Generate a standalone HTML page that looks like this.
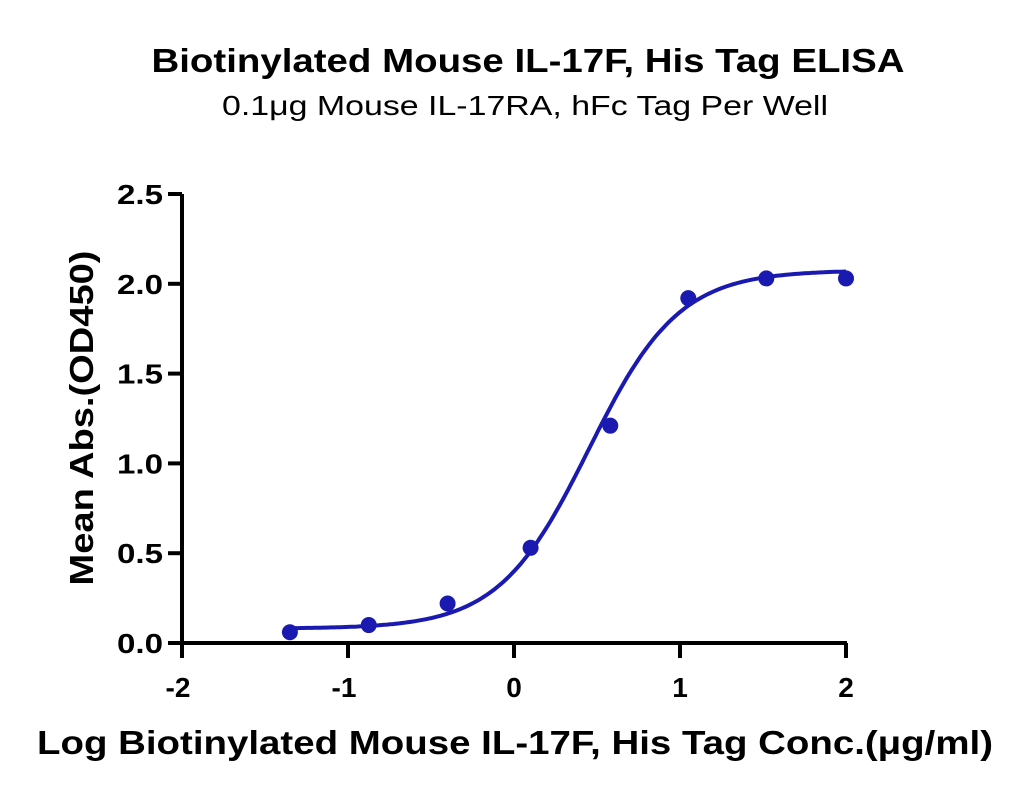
<!DOCTYPE html>
<html><head><meta charset="utf-8"><style>
body{margin:0;background:#fff;}
svg text{font-family:"Liberation Sans",sans-serif;}
</style></head><body>
<svg width="1030" height="799">
<text x="528" y="72" text-anchor="middle" font-size="33" font-weight="bold" textLength="753" lengthAdjust="spacingAndGlyphs">Biotinylated Mouse IL-17F, His Tag ELISA</text>
<text x="525" y="115" text-anchor="middle" font-size="28" textLength="606" lengthAdjust="spacingAndGlyphs">0.1μg Mouse IL-17RA, hFc Tag Per Well</text>
<g id="axes"></g>
<g id="marks"></g>
<text x="515" y="754" text-anchor="middle" font-size="33" font-weight="bold" textLength="956" lengthAdjust="spacingAndGlyphs">Log Biotinylated Mouse IL-17F, His Tag Conc.(μg/ml)</text>
<text transform="translate(93,418) rotate(-90)" text-anchor="middle" font-size="33" font-weight="bold" textLength="335" lengthAdjust="spacingAndGlyphs">Mean Abs.(OD450)</text>
</svg>
<script>
const xValues=[-1.35,-0.875,-0.4,0.1,0.58,1.05,1.52,2.0];
const yValues=[0.06,0.10,0.22,0.53,1.21,1.92,2.03,2.03];
const xTicks=[-2,-1,0,1,2];
const yTicks=[0.0,0.5,1.0,1.5,2.0,2.5];
const fitBottom=0.08, fitTop=2.075, fitLogEC50=0.45, fitHill=1.6;
const X=v=>182+(v+2)*166, Y=v=>643-v*179.6;
const NS="http://www.w3.org/2000/svg";
function mk(t,a,p){const e=document.createElementNS(NS,t);for(const k in a)e.setAttribute(k,a[k]);p.appendChild(e);return e;}
const ax=document.getElementById('axes'), mg=document.getElementById('marks');
let e=mk('line',{x1:182,y1:Y(2.5),x2:182,y2:645,stroke:'#000','stroke-width':4},ax);


e=mk('line',{x1:180,y1:643,x2:847,y2:643,stroke:'#000','stroke-width':4},ax);


yTicks.forEach(v=>{
 let l=mk('line',{x1:168,y1:Y(v),x2:182,y2:Y(v),stroke:'#000','stroke-width':4},ax);
 
 
 let t=mk('text',{x:163,y:Y(v)+10,'text-anchor':'end','font-size':28,'font-weight':'bold',textLength:46,lengthAdjust:'spacingAndGlyphs'},ax);
 t.textContent=v.toFixed(1);
 
 
});
xTicks.forEach(v=>{
 let l=mk('line',{x1:X(v),y1:643,x2:X(v),y2:658,stroke:'#000','stroke-width':4},ax);
 
 
 let t=mk('text',{x:X(v)-(v<0?4:0),y:697,'text-anchor':'middle','font-size':28,'font-weight':'bold'},ax);
 t.textContent=v;
 
 
});
let d='';
for(let i=0;i<=200;i++){const x=xValues[0]+(xValues[xValues.length-1]-xValues[0])*i/200;
 const y=fitBottom+(fitTop-fitBottom)/(1+Math.pow(10,(fitLogEC50-x)*fitHill));
 d+=(i?'L':'M')+X(x).toFixed(1)+','+Y(y).toFixed(1);}
e=mk('path',{d:d,fill:'none',stroke:'#1a1ab0','stroke-width':4},mg);


xValues.forEach((x,i)=>{
 let c=mk('circle',{cx:X(x),cy:Y(yValues[i]),r:8,fill:'#1a1ab0'},mg);
 
 
});
</script>
</body></html>
